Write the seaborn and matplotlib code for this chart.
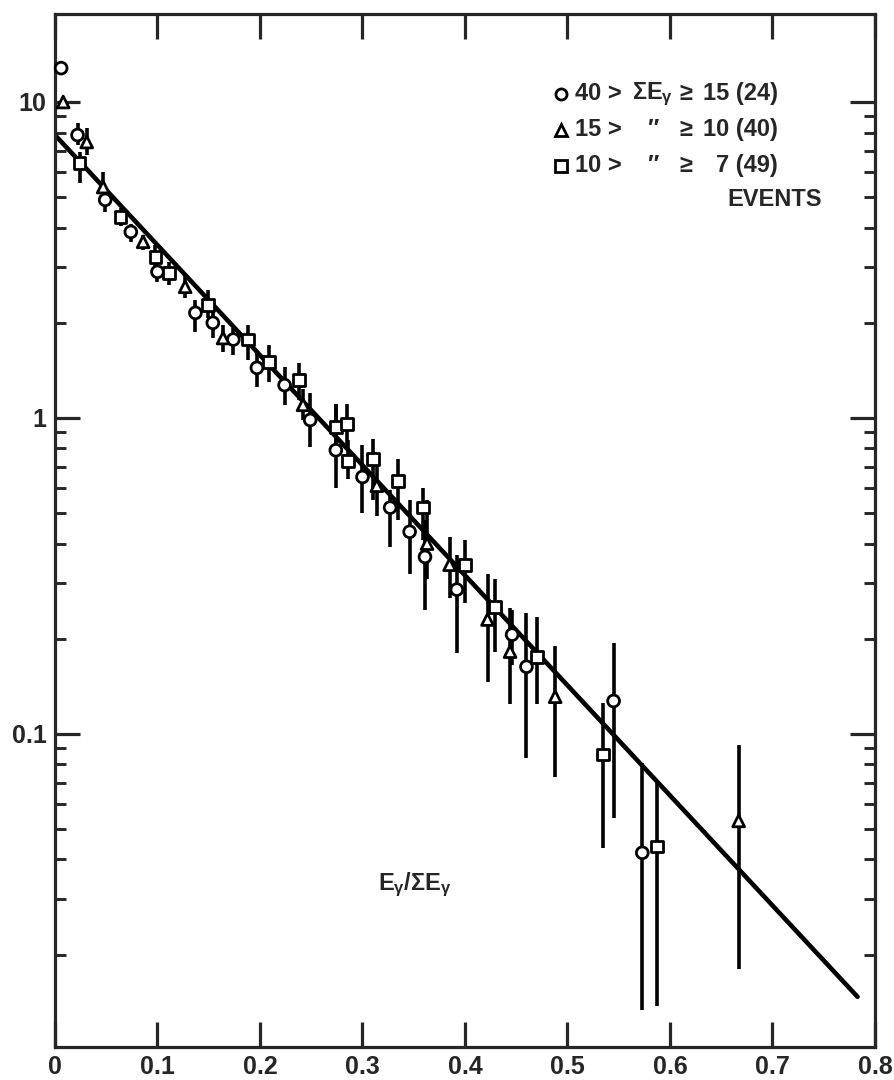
import matplotlib
matplotlib.use("Agg")
import matplotlib.pyplot as plt
from matplotlib import font_manager
from matplotlib.ticker import FixedLocator, NullFormatter, LogLocator
import seaborn as sns
import pandas as pd

# circles: 40 > sum E >= 15
circ_x = [0.006, 0.022, 0.049, 0.074, 0.100, 0.137, 0.154, 0.174, 0.197, 0.224,
          0.249, 0.274, 0.300, 0.327, 0.346, 0.361, 0.392, 0.446, 0.460, 0.545, 0.573]
circ_y = [12.8, 7.86, 4.90, 3.88, 2.90, 2.15, 2.00, 1.77, 1.44, 1.27,
          0.985, 0.79, 0.65, 0.52, 0.436, 0.363, 0.286, 0.206, 0.163, 0.127, 0.042]
circ_hi = [12.8, 8.58, 5.27, 4.11, 3.12, 2.36, 2.16, 1.93, 1.62, 1.45,
           1.20, 1.11, 0.82, 0.59, 0.55, 0.475, 0.368, 0.247, 0.242, 0.194, 0.081]
circ_lo = [12.8, 7.31, 4.49, 3.61, 2.69, 1.87, 1.79, 1.58, 1.25, 1.10,
           0.81, 0.60, 0.50, 0.39, 0.32, 0.247, 0.18, 0.165, 0.084, 0.054, 0.0134]

# triangles: 15 > sum E >= 10
tri_x = [0.008, 0.031, 0.047, 0.086, 0.127, 0.164, 0.242, 0.314, 0.363, 0.385,
         0.422, 0.444, 0.488, 0.667]
tri_y = [10.0, 7.47, 5.38, 3.61, 2.60, 1.79, 1.10, 0.61, 0.40, 0.343,
         0.23, 0.182, 0.131, 0.053]
tri_hi = [10.0, 8.28, 6.00, 3.79, 2.84, 1.97, 1.23, 0.74, 0.55, 0.42,
          0.32, 0.25, 0.19, 0.092]
tri_lo = [10.0, 6.79, 5.08, 3.40, 2.40, 1.62, 0.985, 0.49, 0.31, 0.27,
          0.146, 0.124, 0.073, 0.018]

# squares: 10 > sum E >= 7
sq_x = [0.024, 0.064, 0.098, 0.111, 0.149, 0.188, 0.209, 0.238, 0.274, 0.285,
        0.286, 0.310, 0.335, 0.359, 0.400, 0.429, 0.470, 0.535, 0.587]
sq_y = [6.41, 4.33, 3.23, 2.88, 2.28, 1.77, 1.50, 1.32, 0.937, 0.957,
        0.73, 0.74, 0.63, 0.52, 0.343, 0.252, 0.175, 0.086, 0.044]
sq_hi = [6.95, 4.62, 3.53, 3.12, 2.54, 1.97, 1.70, 1.49, 1.11, 1.11,
         0.85, 0.86, 0.74, 0.60, 0.41, 0.31, 0.235, 0.125, 0.070]
sq_lo = [5.54, 4.05, 2.98, 2.64, 2.07, 1.53, 1.30, 1.14, 0.81, 0.79,
         0.64, 0.55, 0.475, 0.41, 0.26, 0.182, 0.124, 0.0436, 0.0137]

# fitted exponential line
fit_x = [0.0, 0.783]
fit_y = [7.86, 0.0147]

x_ticks = [0, 0.1, 0.2, 0.3, 0.4, 0.5, 0.6, 0.7, 0.8]
x_labels = ["0", "0.1", "0.2", "0.3", "0.4", "0.5", "0.6", "0.7", "0.8"]
y_ticks = [0.1, 1, 10]
y_labels = ["0.1", "1", "10"]

df = pd.concat([
    pd.DataFrame({"x": circ_x, "y": circ_y, "lo": circ_lo, "hi": circ_hi, "grp": "c"}),
    pd.DataFrame({"x": tri_x, "y": tri_y, "lo": tri_lo, "hi": tri_hi, "grp": "t"}),
    pd.DataFrame({"x": sq_x, "y": sq_y, "lo": sq_lo, "hi": sq_hi, "grp": "s"}),
], ignore_index=True)

sns.set_style("ticks")
names = {f.name for f in font_manager.fontManager.ttflist}
fam = "Liberation Sans Narrow" if "Liberation Sans Narrow" in names else "Liberation Sans"
plt.rcParams["font.family"] = [fam, "DejaVu Sans"]
plt.rcParams["font.weight"] = "bold"
plt.rcParams["mathtext.fontset"] = "custom"
plt.rcParams["mathtext.rm"] = fam + ":bold"
plt.rcParams["mathtext.it"] = fam + ":bold"
plt.rcParams["mathtext.bf"] = fam + ":bold"

fig = plt.figure(figsize=(8.94, 10.8), dpi=100)
ax = fig.add_axes([0.0615, 0.0306, 0.9172, 0.9565])

# error bars
ax.vlines(df["x"], df["lo"], df["hi"], color="black", lw=2.6, zorder=2)

# fit line
sns.lineplot(x=fit_x, y=fit_y, color="black", lw=3.3, ax=ax, zorder=2)

# data points
sns.scatterplot(data=df, x="x", y="y", style="grp",
                markers={"c": "o", "t": "^", "s": "s"},
                color="white", edgecolor="black", linewidth=2.0, s=72,
                legend=False, ax=ax, zorder=3, clip_on=False)

ax.set_yscale("log")
ax.set_xlim(0, 0.8)
ax.set_ylim(0.0102, 19.0)
ax.set_xlabel("")
ax.set_ylabel("")

ax.xaxis.set_major_locator(FixedLocator(x_ticks))
ax.set_xticklabels(x_labels)
ax.yaxis.set_major_locator(FixedLocator(y_ticks))
ax.set_yticklabels(y_labels)
ax.yaxis.set_minor_locator(LogLocator(base=10, subs=range(2, 10)))
ax.yaxis.set_minor_formatter(NullFormatter())

ax.tick_params(axis="both", which="major", direction="in", length=18, width=2.3,
               top=True, right=True, labelsize=18, pad=6)
ax.tick_params(axis="y", which="minor", direction="in", length=8, width=2.1,
               left=True, right=True)
ax.tick_params(axis="x", which="minor", bottom=False, top=False)
for lab in ax.get_xticklabels() + ax.get_yticklabels():
    lab.set_fontweight("bold")
for sp in ax.spines.values():
    sp.set_linewidth(2.3)

# legend drawn by hand
rows_y = [0.9226, 0.8877, 0.8529]
mk = ["o", "^", "s"]
for yy, m in zip(rows_y, mk):
    ax.plot([0.617], [yy], marker=m, ms=8, mfc="white", mec="black", mew=2.0,
            transform=ax.transAxes, clip_on=False)
fs = 17
left_txt = ["40 >", "15 >", "10 >"]
mid_txt = [r"$\Sigma E_\gamma$", "\u2033", "\u2033"]
right_txt = ["15 (24)", "10 (40)", "7 (49)"]
for yy, a, b, c in zip(rows_y, left_txt, mid_txt, right_txt):
    ax.text(0.634, yy, a, transform=ax.transAxes, ha="left", va="center",
            fontsize=fs, fontweight="bold")
    ax.text(0.729, yy, b, transform=ax.transAxes, ha="center", va="center",
            fontsize=fs, fontweight="bold")
    ax.text(0.770, yy, "\u2265", transform=ax.transAxes, ha="center", va="center",
            fontsize=fs, fontweight="bold")
    ax.text(0.882, yy, c, transform=ax.transAxes, ha="right", va="center",
            fontsize=fs, fontweight="bold")
ax.text(0.935, 0.820, "EVENTS", transform=ax.transAxes, ha="right", va="center",
        fontsize=fs, fontweight="bold")

# axis label placed inside the frame
ax.text(0.439, 0.157, r"$E_\gamma/\Sigma E_\gamma$", transform=ax.transAxes,
        ha="center", va="center", fontsize=fs, fontweight="bold")

fig.savefig("out.png", dpi=100)
